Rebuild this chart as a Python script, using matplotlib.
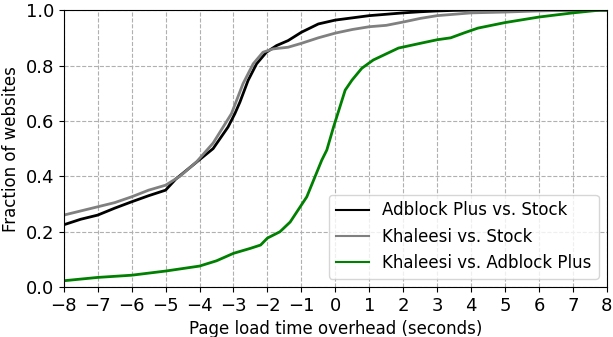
import numpy as np
import matplotlib
matplotlib.use("Agg")
import matplotlib.pyplot as plt

# CDF of page load time overhead
abp_x = [-8, -7.5, -7, -6.5, -6, -5.5, -5, -4.7, -4.2, -3.6, -3.16, -2.96, -2.81, -2.57, -2.32, -2.03, -1.73, -1.39, -1.0, -0.5, 0.0, 0.5, 1.0, 1.5, 2.0, 2.5, 3.0, 3.5, 4.0, 8]
abp_y = [0.225, 0.245, 0.26, 0.285, 0.308, 0.33, 0.35, 0.39, 0.44, 0.50, 0.578, 0.626, 0.668, 0.746, 0.806, 0.848, 0.872, 0.89, 0.92, 0.95, 0.964, 0.972, 0.98, 0.985, 0.99, 0.994, 0.997, 0.999, 1.0, 1.0]

khal_x = [-8, -7.5, -7, -6.5, -6, -5.5, -5, -4.58, -4.09, -3.6, -3.06, -2.72, -2.42, -2.13, -1.83, -1.39, -1.0, -0.5, 0.0, 0.5, 1.0, 1.5, 2.0, 2.5, 3.0, 3.5, 4.0, 5.0, 6.0, 7.0, 8]
khal_y = [0.26, 0.275, 0.29, 0.305, 0.326, 0.35, 0.368, 0.40, 0.452, 0.52, 0.626, 0.734, 0.806, 0.848, 0.86, 0.866, 0.88, 0.90, 0.917, 0.93, 0.94, 0.945, 0.957, 0.97, 0.98, 0.985, 0.99, 0.993, 0.997, 1.0, 1.0]

kva_x = [-8, -7, -6, -5, -4, -3.5, -3, -2.5, -2.2, -2.0, -1.63, -1.33, -0.84, -0.64, -0.4, -0.25, -0.05, 0.09, 0.29, 0.49, 0.78, 1.12, 1.86, 2.5, 3.0, 3.4, 3.8, 4.2, 5.0, 6.0, 7.0, 7.8, 8]
kva_y = [0.023, 0.035, 0.043, 0.058, 0.076, 0.095, 0.122, 0.14, 0.152, 0.177, 0.20, 0.235, 0.326, 0.386, 0.458, 0.495, 0.579, 0.633, 0.711, 0.747, 0.79, 0.82, 0.863, 0.88, 0.893, 0.90, 0.918, 0.935, 0.955, 0.975, 0.99, 1.0, 1.0]

labels = ["Adblock Plus vs. Stock", "Khaleesi vs. Stock", "Khaleesi vs. Adblock Plus"]
colors = ["black", "gray", "green"]

fig, ax = plt.subplots(figsize=(6.13, 3.37), dpi=100)

for xs, ys, lab, c in zip([abp_x, khal_x, kva_x], [abp_y, khal_y, kva_y], labels, colors):
    ax.plot(xs, ys, color=c, linewidth=2, label=lab)

ax.set_xlim(-8, 8)
ax.set_ylim(0, 1)
ax.set_xticks(np.arange(-8, 9, 1))
ax.set_yticks(np.arange(0, 1.01, 0.2))
ax.tick_params(labelsize=13)
ax.grid(True, linestyle="--", color="#b0b0b0", linewidth=0.8)
ax.set_axisbelow(True)
ax.set_xlabel("Page load time overhead (seconds)", fontsize=12)
ax.set_ylabel("Fraction of websites", fontsize=12)

leg = ax.legend(loc="lower right", fontsize=12, handlelength=2)
for line in leg.get_lines():
    line.set_linewidth(1.5)

fig.subplots_adjust(left=0.104, right=0.99, top=0.97, bottom=0.148)
fig.savefig("out.png", dpi=100)
